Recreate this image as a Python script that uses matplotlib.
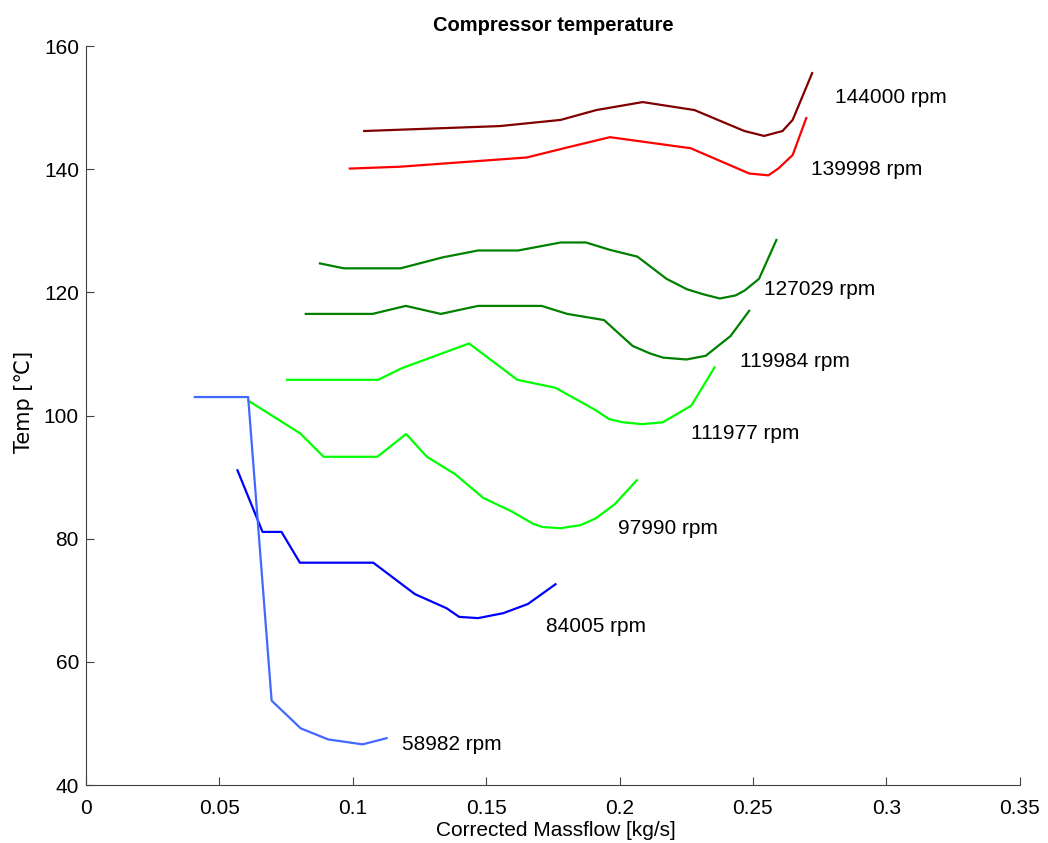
import matplotlib
matplotlib.use("Agg")
import matplotlib.pyplot as plt

plt.rcParams['font.family'] = ['Liberation Sans', 'DejaVu Sans']

#-------- data (massflow kg/s, temp C) --------#
x_144000 = [0.1043, 0.1551, 0.1779, 0.1913, 0.2087, 0.2281, 0.2468, 0.2542, 0.2611, 0.2649, 0.2722]
t_144000 = [146.2, 147.0, 148.0, 149.6, 150.9, 149.6, 146.2, 145.4, 146.2, 148.0, 155.6]

x_139998 = [0.0989, 0.1177, 0.1652, 0.1792, 0.1964, 0.2267, 0.2486, 0.2558, 0.2595, 0.2649, 0.2700]
t_139998 = [140.1, 140.4, 141.9, 143.4, 145.2, 143.4, 139.3, 139.0, 140.1, 142.3, 148.3]

x_127029 = [0.0877, 0.0967, 0.1179, 0.1339, 0.1470, 0.1620, 0.1780, 0.1874, 0.1964, 0.2067,
            0.2176, 0.2253, 0.2313, 0.2376, 0.2435, 0.2469, 0.2523, 0.2588]
t_127029 = [124.7, 123.9, 123.9, 125.7, 126.8, 126.8, 128.1, 128.1, 126.9, 125.8,
            122.2, 120.5, 119.7, 119.0, 119.5, 120.3, 122.2, 128.5]

x_119984 = [0.0824, 0.1074, 0.1199, 0.1330, 0.1470, 0.1708, 0.1804, 0.1942, 0.2049, 0.2113,
            0.2163, 0.2251, 0.2323, 0.2416, 0.2486]
t_119984 = [116.5, 116.5, 117.8, 116.5, 117.8, 117.8, 116.5, 115.5, 111.3, 110.1,
            109.4, 109.1, 109.7, 112.9, 117.0]

x_111977 = [0.0754, 0.1095, 0.1185, 0.1436, 0.1617, 0.1760, 0.1905, 0.1962, 0.2012, 0.2085,
            0.2162, 0.2269, 0.2356]
t_111977 = [105.8, 105.8, 107.7, 111.7, 105.8, 104.5, 101.0, 99.4, 98.9, 98.6,
            98.9, 101.6, 107.8]

x_97990 = [0.0609, 0.0803, 0.0891, 0.1092, 0.1200, 0.1278, 0.1383, 0.1490, 0.1597, 0.1677,
           0.1711, 0.1778, 0.1854, 0.1911, 0.1982, 0.2065]
t_97990 = [102.4, 97.1, 93.3, 93.3, 97.0, 93.3, 90.5, 86.6, 84.4, 82.4,
           81.9, 81.7, 82.2, 83.3, 85.6, 89.5]

x_84005 = [0.0568, 0.0662, 0.0733, 0.0802, 0.1077, 0.1233, 0.1352, 0.1399, 0.1470, 0.1564,
           0.1657, 0.1760]
t_84005 = [91.1, 81.1, 81.1, 76.1, 76.1, 71.0, 68.7, 67.3, 67.1, 67.9,
           69.4, 72.6]

x_58982 = [0.0408, 0.0608, 0.0696, 0.0805, 0.0908, 0.1037, 0.1127]
t_58982 = [103.0, 103.0, 53.7, 49.2, 47.4, 46.6, 47.6]

speed_labels = ["144000 rpm", "139998 rpm", "127029 rpm", "119984 rpm",
                "111977 rpm", "97990 rpm", "84005 rpm", "58982 rpm"]
label_x = [0.2807, 0.2717, 0.2540, 0.2450, 0.2267, 0.1994, 0.1724, 0.1184]
label_y = [151.7, 140.0, 120.4, 108.85, 97.0, 81.7, 65.8, 46.5]

#-------- plotting ----------#
curves = [(x_144000, t_144000, '#800000'),
          (x_139998, t_139998, '#ff0000'),
          (x_127029, t_127029, '#008000'),
          (x_119984, t_119984, '#008000'),
          (x_111977, t_111977, '#00ff00'),
          (x_97990, t_97990, '#00ff00'),
          (x_84005, t_84005, '#0000ff'),
          (x_58982, t_58982, '#4169ff')]

fig = plt.figure(figsize=(10.48, 8.43), dpi=100)
ax = fig.add_axes([0.082, 0.0688, 0.891, 0.8766])

for xs, ts, c in curves:
    ax.plot(xs, ts, color=c, lw=1.6)

for lab, lx, ly in zip(speed_labels, label_x, label_y):
    ax.text(lx, ly, lab, fontsize=15, va='center', ha='left')

ax.set_xlim(0, 0.35)
ax.set_ylim(40, 160)
ax.set_xticks([0, 0.05, 0.1, 0.15, 0.2, 0.25, 0.3, 0.35])
ax.set_xticklabels(['0', '0.05', '0.1', '0.15', '0.2', '0.25', '0.3', '0.35'])
ax.set_yticks(range(40, 161, 20))
ax.tick_params(direction='in', length=6, labelsize=15, color='#404040')
ax.tick_params(axis='x', pad=10)
ax.tick_params(axis='y', pad=5)
ax.spines['top'].set_visible(False)
ax.spines['right'].set_visible(False)
for s in ['left', 'bottom']:
    ax.spines[s].set_color('#404040')

ax.set_title("Compressor temperature", fontsize=14.5, fontweight='bold', pad=11)
ax.set_xlabel("Corrected Massflow [kg/s]", fontsize=15, va='center')
ax.xaxis.set_label_coords(0.503, -0.062)
ax.set_ylabel("Temp [\u2103]", fontsize=15, va='center', family=['DejaVu Sans'])
ax.yaxis.set_label_coords(-0.066, 0.518)

fig.savefig("out.png", dpi=100)
